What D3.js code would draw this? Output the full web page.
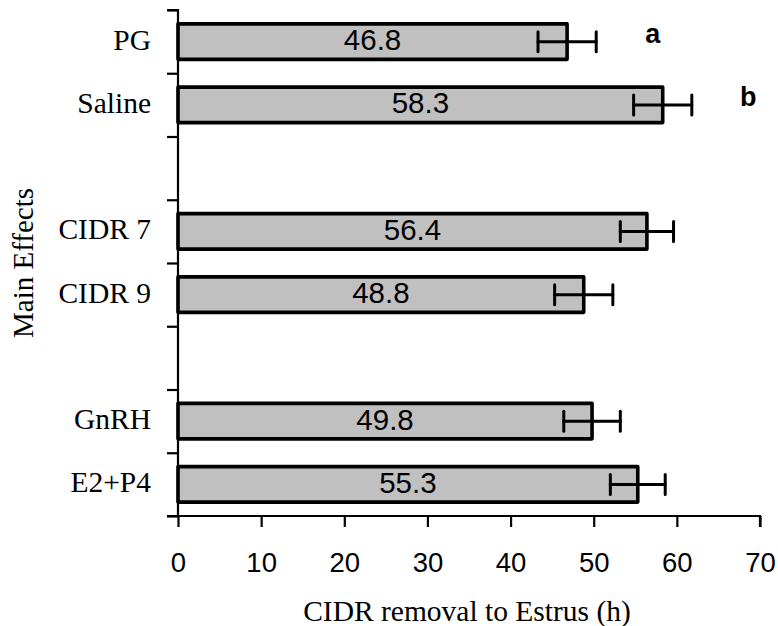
<!DOCTYPE html>
<html>
<head>
<meta charset="utf-8">
<script src="https://cdn.jsdelivr.net/npm/d3@7"></script>
<style>
  html, body { margin: 0; padding: 0; background: #fff; }
  svg { display: block; }
</style>
</head>
<body>
<svg id="chart" width="778" height="626"></svg>
<script>
// ---- data ----
const categories = ["PG", "Saline", "", "CIDR 7", "CIDR 9", "", "GnRH", "E2+P4"];
const means      = [46.8, 58.3, null, 56.4, 48.8, null, 49.8, 55.3];
const errors     = [3.5, 3.5, null, 3.2, 3.5, null, 3.4, 3.3];
const letters    = [{cat: "PG", text: "a", x: 57.1}, {cat: "Saline", text: "b", x: 68.6}];
const xTicks     = [0, 10, 20, 30, 40, 50, 60, 70];
const xTitle     = "CIDR removal to Estrus (h)";
const yTitle     = "Main Effects";

(function () {
// ---- layout ----
const svg = d3.select("#chart");
const mLeft = 178, mRight = 760, mTop = 10, mBottom = 516;
const serif = "Liberation Serif, Times New Roman, serif";
const sans = "Liberation Sans, Arial, sans-serif";

const x = d3.scaleLinear().domain([0, 70]).range([mLeft, mRight]);
const y = d3.scaleBand().domain(categories.map((c, i) => i)).range([mTop, mBottom]).padding(0);
const yEdge = d3.scaleLinear().domain([0, categories.length]).range([mTop, mBottom]);
const cy = i => y(i) + y.bandwidth() / 2;

const barH = y.bandwidth() * 0.56;

const rows = categories.map((c, i) => ({c, i, m: means[i], e: errors[i]})).filter(d => d.m !== null);

// bars
svg.append("g").selectAll("rect").data(rows).join("rect")
  .attr("x", x(0))
  .attr("y", d => cy(d.i) - barH / 2)
  .attr("width", d => x(d.m) - x(0))
  .attr("height", barH)
  .attr("fill", "#c0c0c0")
  .attr("stroke", "#000")
  .attr("stroke-width", 3.6)
  .attr("stroke-linejoin", "round");

// error bars
const eb = svg.append("g").attr("stroke", "#000").attr("stroke-width", 3).attr("stroke-linecap", "round");
rows.forEach(d => {
  const c = cy(d.i);
  eb.append("line").attr("x1", x(d.m - d.e)).attr("x2", x(d.m + d.e)).attr("y1", c).attr("y2", c);
  eb.append("line").attr("x1", x(d.m - d.e)).attr("x2", x(d.m - d.e)).attr("y1", c - 10).attr("y2", c + 10);
  eb.append("line").attr("x1", x(d.m + d.e)).attr("x2", x(d.m + d.e)).attr("y1", c - 10).attr("y2", c + 10);
});

// value labels
svg.append("g").selectAll("text").data(rows).join("text")
  .attr("x", d => (x(0) + x(d.m)) / 2)
  .attr("y", d => cy(d.i) + 8.5)
  .attr("text-anchor", "middle")
  .attr("font-family", sans)
  .attr("font-size", 29.5)
  .attr("fill", "#000")
  .text(d => d.m.toFixed(1));

// significance letters
svg.append("g").selectAll("text").data(letters).join("text")
  .attr("x", d => x(d.x))
  .attr("y", d => cy(categories.indexOf(d.cat)) + 1.5)
  .attr("text-anchor", "middle")
  .attr("font-family", sans)
  .attr("font-weight", "bold")
  .attr("font-size", 27)
  .text(d => d.text);

// y axis (ticks at band edges)
const yAxis = d3.axisLeft(yEdge).tickValues(d3.range(categories.length + 1)).tickSize(11).tickFormat("");
const gy = svg.append("g").attr("transform", `translate(${mLeft},0)`).call(yAxis);
gy.select(".domain").attr("stroke-width", 2.2).attr("d", `M-11,${mTop}H0V${mBottom}`);
gy.selectAll(".tick line").attr("stroke-width", 2.2);

// category labels
svg.append("g").selectAll("text").data(categories.map((c, i) => ({c, i})).filter(d => d.c)).join("text")
  .attr("x", mLeft - 27)
  .attr("y", d => cy(d.i) + 8)
  .attr("text-anchor", "end")
  .attr("font-family", serif)
  .attr("font-size", 29.5)
  .text(d => d.c);

// x axis
const xAxis = d3.axisBottom(x).tickValues(xTicks).tickSize(11).tickPadding(25).tickFormat(d3.format("d"));
const gx = svg.append("g").attr("transform", `translate(0,${mBottom})`).call(xAxis);
gx.select(".domain").attr("stroke-width", 2.2).attr("d", `M${mLeft - 11},0H${mRight}V11`);
gx.selectAll(".tick line").attr("stroke-width", 2.2);
gx.selectAll(".tick text")
  .attr("font-family", sans)
  .attr("font-size", 27.5)
  .attr("fill", "#000");

// axis titles
svg.append("text")
  .attr("x", 467)
  .attr("y", 621)
  .attr("text-anchor", "middle")
  .attr("font-family", serif)
  .attr("font-size", 29.5)
  .text(xTitle);

svg.append("text")
  .attr("transform", `translate(33,${(mTop + mBottom) / 2}) rotate(-90)`)
  .attr("text-anchor", "middle")
  .attr("font-family", serif)
  .attr("font-size", 29)
  .text(yTitle);
})();
</script>
</body>
</html>
